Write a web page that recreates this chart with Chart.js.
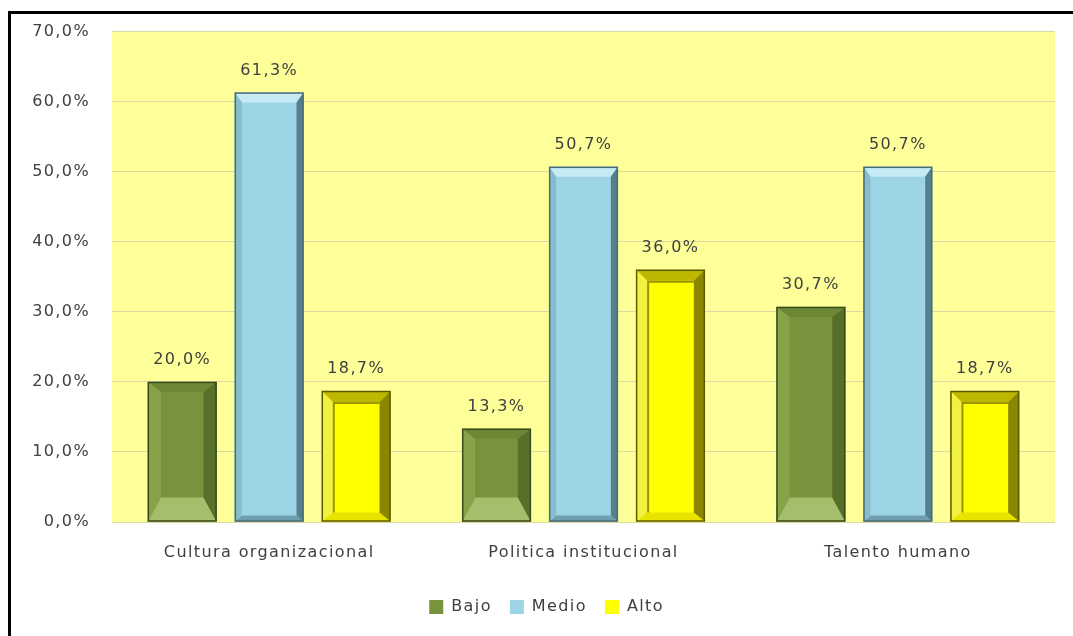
<!DOCTYPE html>
<html>
<head>
<meta charset="utf-8">
<script src="https://cdn.jsdelivr.net/npm/chart.js@4.4.1/dist/chart.umd.min.js"></script>
<style>
  html, body { margin: 0; padding: 0; background: #fff; }
  #frame { position: absolute; left: 8px; top: 11px; width: 1100px; height: 700px;
           border-left: 3px solid #000; border-top: 3px solid #000; }
  #wrap { position: absolute; left: 0; top: 0; width: 1073px; height: 636px; }
</style>
</head>
<body>
<div id="frame"></div>
<div id="wrap"><canvas id="grafico" width="1073" height="636"></canvas></div>
<script>
// Datos por dimensión
const categorias = ['Cultura organizacional', 'Politica institucional', 'Talento humano'];
const bajo = [20.0, 13.3, 30.7];
const medio = [61.3, 50.7, 50.7];
const alto = [18.7, 36.0, 18.7];
const ejeMax = 70;
const ejePaso = 10;

const fmt = (v) => v.toFixed(1).replace('.', ',') + '%';
const FUENTE = 'DejaVu Sans';
const ESPACIADO = '1.4px';

// Estilos de biselado por serie
const biseles = [
    { b: 13, bt: 10, bb: 24, top: '#6c8834', bottom: '#a3bf6c', left: '#86a34a', right: '#56702a', edge: '#3b4a1a' },
    { b: 7, bt: 10, bb: 6, top: '#c6eaf4', bottom: '#6f9fae', left: '#86bccc', right: '#557f8c', edge: '#4a6b76' },
    { b: 11, bt: 11, bb: 9, top: '#bdb700', bottom: '#e8e400', left: '#f2f040', right: '#8a8600', edge: '#5c5a00', inner: true }
];

function trap(ctx, pts, color) {
    ctx.beginPath();
    ctx.moveTo(pts[0][0], pts[0][1]);
    for (let i = 1; i < pts.length; i++) ctx.lineTo(pts[i][0], pts[i][1]);
    ctx.closePath();
    ctx.fillStyle = color;
    ctx.fill();
}

const fondoPlugin = {
    id: 'fondo',
    beforeInit(chart) {
        chart.ctx.letterSpacing = ESPACIADO;
    },
    beforeDraw(chart) {
        const { ctx, chartArea: a } = chart;
        ctx.letterSpacing = ESPACIADO;
        ctx.save();
        ctx.fillStyle = '#ffff99';
        ctx.fillRect(a.left, a.top, a.right - a.left, a.bottom - a.top);
        ctx.restore();
    }
};

const biselPlugin = {
    id: 'bisel',
    afterDatasetsDraw(chart) {
        const ctx = chart.ctx;
        chart.data.datasets.forEach((ds, i) => {
            const s = biseles[i];
            chart.getDatasetMeta(i).data.forEach((bar) => {
                const p = bar.getProps(['x', 'y', 'base', 'width'], true);
                const l = p.x - p.width / 2, r = p.x + p.width / 2, t = p.y, bt = p.base;
                const h = bt - t;
                const b = Math.min(s.b, p.width / 3), tb = Math.min(s.bt, h / 3), bb = Math.min(s.bb, h / 3);
                ctx.save();
                trap(ctx, [[l, t], [r, t], [r - b, t + tb], [l + b, t + tb]], s.top);
                trap(ctx, [[l, bt], [r, bt], [r - b, bt - bb], [l + b, bt - bb]], s.bottom);
                trap(ctx, [[l, t], [l + b, t + tb], [l + b, bt - bb], [l, bt]], s.left);
                trap(ctx, [[r, t], [r - b, t + tb], [r - b, bt - bb], [r, bt]], s.right);
                if (s.inner) {
                    ctx.strokeStyle = '#9a9500';
                    ctx.lineWidth = 2;
                    ctx.beginPath();
                    ctx.moveTo(l + b + 1, bt - bb);
                    ctx.lineTo(l + b + 1, t + tb + 1);
                    ctx.lineTo(r - b, t + tb + 1);
                    ctx.stroke();
                }
                ctx.strokeStyle = s.edge;
                ctx.lineWidth = 1.5;
                ctx.strokeRect(l + 0.5, t + 0.5, p.width - 1, h - 1);
                ctx.restore();
            });
        });
    }
};

const etiquetasPlugin = {
    id: 'etiquetas',
    afterDatasetsDraw(chart) {
        const ctx = chart.ctx;
        ctx.save();
        ctx.font = '16px "' + FUENTE + '"';
        ctx.fillStyle = '#404040';
        ctx.textAlign = 'center';
        ctx.textBaseline = 'middle';
        chart.data.datasets.forEach((ds, i) => {
            chart.getDatasetMeta(i).data.forEach((bar, j) => {
                ctx.fillText(fmt(ds.data[j]), bar.x, bar.y - 22);
            });
        });
        ctx.restore();
    }
};

new Chart(document.getElementById('grafico'), {
    type: 'bar',
    data: {
        labels: categorias,
        datasets: [
            { label: 'Bajo', data: bajo, backgroundColor: '#77933c' },
            { label: 'Medio', data: medio, backgroundColor: '#9dd4e6' },
            { label: 'Alto', data: alto, backgroundColor: '#ffff00' }
        ]
    },
    options: {
        responsive: false,
        devicePixelRatio: 1,
        animation: false,
        categoryPercentage: 0.83,
        barPercentage: 0.79,
        layout: { padding: { left: 20, top: 29, right: 18, bottom: 11 } },
        scales: {
            x: {
                grid: { display: false },
                border: { display: false },
                ticks: { color: '#404040', padding: 13, font: { family: FUENTE, size: 16 } },
                afterFit: (scale) => { scale.height = 59; }
            },
            y: {
                min: 0,
                max: ejeMax,
                ticks: {
                    stepSize: ejePaso,
                    padding: 22,
                    color: '#404040',
                    font: { family: FUENTE, size: 16 },
                    callback: (v) => fmt(v)
                },
                grid: { color: '#dcd9a4', drawTicks: false },
                border: { display: false },
                afterFit: (scale) => { scale.width = 92; }
            }
        },
        plugins: {
            legend: {
                position: 'bottom',
                labels: {
                    boxWidth: 14,
                    boxHeight: 14,
                    padding: 18,
                    color: '#404040',
                    font: { family: FUENTE, size: 16 }
                }
            },
            tooltip: { enabled: false }
        }
    },
    plugins: [fondoPlugin, biselPlugin, etiquetasPlugin]
});
</script>
</body>
</html>
